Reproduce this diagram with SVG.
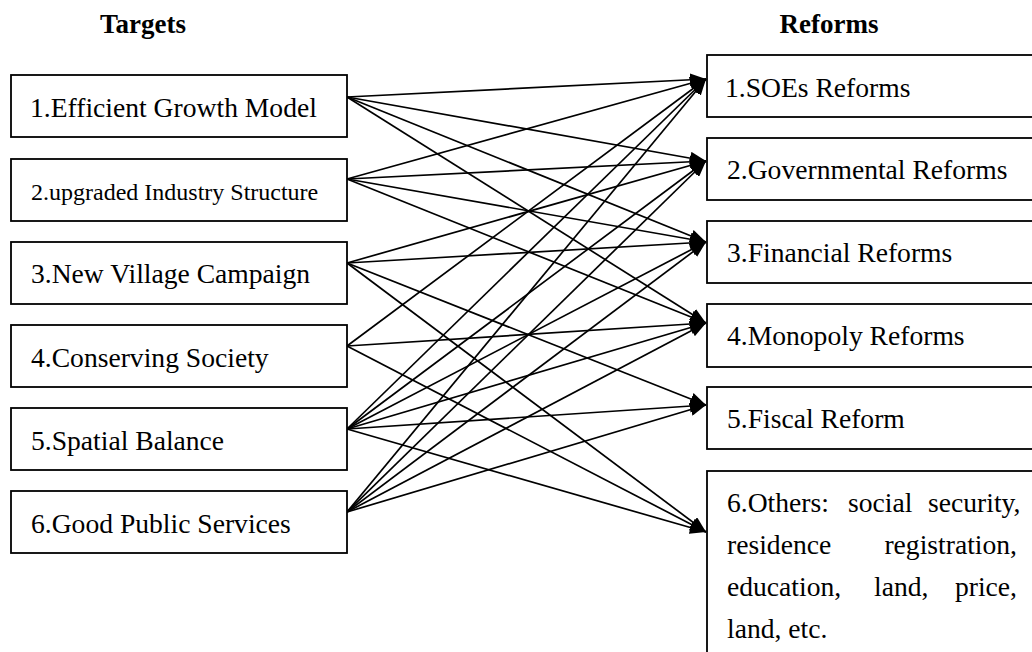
<svg xmlns="http://www.w3.org/2000/svg" width="1032" height="652" viewBox="0 0 1032 652">
  <style>
    .box { fill: #ffffff; stroke: #000000; stroke-width: 1.8; }
    .lbl { font-family: "Liberation Serif", "Times New Roman", serif; font-size: 27.6px; fill: #000000; }
    .small { font-size: 24px; }
    .head { font-family: "Liberation Serif", "Times New Roman", serif; font-size: 27px; font-weight: bold; fill: #000000; text-anchor: middle; }
    .link { stroke: #000000; stroke-width: 1.7; fill: none; marker-end: url(#arrow); }
  </style>
  <defs>
    <marker id="arrow" viewBox="0 0 16 13" refX="16" refY="6.5" markerWidth="16" markerHeight="13" markerUnits="userSpaceOnUse" orient="auto">
      <path d="M0,0 L16,6.5 L0,13 Z" fill="#000000"/>
    </marker>
  </defs>
  <rect width="1032" height="652" fill="#ffffff"/>

  <!-- column headings -->
  <text class="head" x="143" y="33">Targets</text>
  <text class="head" x="829" y="33">Reforms</text>

  <!-- connectors: every target links to the reforms it relies on -->
  <g id="connectors">
    <!-- 1. Efficient Growth Model -->
    <line class="link" x1="347" y1="97" x2="706" y2="79"/>
    <line class="link" x1="347" y1="97" x2="706" y2="161"/>
    <line class="link" x1="347" y1="97" x2="706" y2="242"/>
    <line class="link" x1="347" y1="97" x2="706" y2="323"/>
    <!-- 2. upgraded Industry Structure -->
    <line class="link" x1="347" y1="179" x2="706" y2="79"/>
    <line class="link" x1="347" y1="179" x2="706" y2="161"/>
    <line class="link" x1="347" y1="179" x2="706" y2="242"/>
    <line class="link" x1="347" y1="179" x2="706" y2="323"/>
    <!-- 3. New Village Campaign -->
    <line class="link" x1="347" y1="263" x2="706" y2="161"/>
    <line class="link" x1="347" y1="263" x2="706" y2="242"/>
    <line class="link" x1="347" y1="263" x2="706" y2="405"/>
    <line class="link" x1="347" y1="263" x2="706" y2="532"/>
    <!-- 4. Conserving Society -->
    <line class="link" x1="347" y1="346" x2="706" y2="79"/>
    <line class="link" x1="347" y1="346" x2="706" y2="323"/>
    <line class="link" x1="347" y1="346" x2="706" y2="532"/>
    <!-- 5. Spatial Balance -->
    <line class="link" x1="347" y1="429" x2="706" y2="79"/>
    <line class="link" x1="347" y1="429" x2="706" y2="161"/>
    <line class="link" x1="347" y1="429" x2="706" y2="242"/>
    <line class="link" x1="347" y1="429" x2="706" y2="323"/>
    <line class="link" x1="347" y1="429" x2="706" y2="405"/>
    <line class="link" x1="347" y1="429" x2="706" y2="532"/>
    <!-- 6. Good Public Services -->
    <line class="link" x1="347" y1="512" x2="706" y2="79"/>
    <line class="link" x1="347" y1="512" x2="706" y2="161"/>
    <line class="link" x1="347" y1="512" x2="706" y2="242"/>
    <line class="link" x1="347" y1="512" x2="706" y2="323"/>
    <line class="link" x1="347" y1="512" x2="706" y2="405"/>
  </g>

  <!-- targets -->
  <g id="target-1">
    <rect class="box" x="11" y="75" width="336" height="62"/>
    <text class="lbl" x="30" y="117">1.Efficient Growth Model</text>
  </g>
  <g id="target-2">
    <rect class="box" x="11" y="159" width="336" height="62"/>
    <text class="lbl small" x="31" y="200">2.upgraded Industry Structure</text>
  </g>
  <g id="target-3">
    <rect class="box" x="11" y="242" width="336" height="62"/>
    <text class="lbl" x="31" y="283">3.New Village Campaign</text>
  </g>
  <g id="target-4">
    <rect class="box" x="11" y="325" width="336" height="62"/>
    <text class="lbl" x="31" y="367">4.Conserving Society</text>
  </g>
  <g id="target-5">
    <rect class="box" x="11" y="408" width="336" height="62"/>
    <text class="lbl" x="31" y="450">5.Spatial Balance</text>
  </g>
  <g id="target-6">
    <rect class="box" x="11" y="491" width="336" height="62"/>
    <text class="lbl" x="31" y="533">6.Good Public Services</text>
  </g>

  <!-- reforms -->
  <g id="reform-1">
    <rect class="box" x="707" y="55" width="340" height="62"/>
    <text class="lbl" x="725" y="97">1.SOEs Reforms</text>
  </g>
  <g id="reform-2">
    <rect class="box" x="707" y="138" width="340" height="62"/>
    <text class="lbl" x="727" y="179">2.Governmental Reforms</text>
  </g>
  <g id="reform-3">
    <rect class="box" x="707" y="221" width="340" height="62"/>
    <text class="lbl" x="727" y="262">3.Financial Reforms</text>
  </g>
  <g id="reform-4">
    <rect class="box" x="707" y="304" width="340" height="63"/>
    <text class="lbl" x="727" y="345">4.Monopoly Reforms</text>
  </g>
  <g id="reform-5">
    <rect class="box" x="707" y="387" width="340" height="62"/>
    <text class="lbl" x="727" y="428">5.Fiscal Reform</text>
  </g>
  <g id="reform-6">
    <rect class="box" x="707" y="471" width="340" height="200"/>
    <!-- justified paragraph: words placed one by one -->
    <text class="lbl" y="512">
      <tspan x="727">6.Others:</tspan>
      <tspan x="848">social</tspan>
      <tspan x="928">security,</tspan>
    </text>
    <text class="lbl" y="554">
      <tspan x="727">residence</tspan>
    </text>
    <text class="lbl" y="554" x="1017" text-anchor="end">registration,</text>
    <text class="lbl" y="596">
      <tspan x="727">education,</tspan>
      <tspan x="874">land,</tspan>
    </text>
    <text class="lbl" y="596" x="1017" text-anchor="end">price,</text>
    <text class="lbl" x="727" y="638">land, etc.</text>
  </g>
</svg>
